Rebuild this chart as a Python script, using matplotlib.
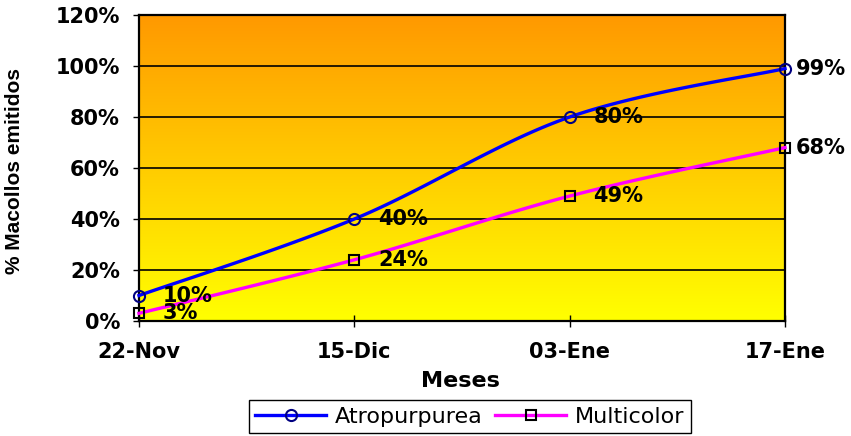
import numpy as np
import matplotlib.pyplot as plt
from matplotlib.ticker import FuncFormatter

# data
meses = ['22-Nov', '15-Dic', '03-Ene', '17-Ene']
atropurpurea = [10, 40, 80, 99]
multicolor = [3, 24, 49, 68]
yticks = [0, 20, 40, 60, 80, 100, 120]


def smooth_curve(xs, ys, n=40):
    """Excel-like smoothed line: cubic Bezier segments with Catmull-Rom control points."""
    pts = np.column_stack([xs, ys]).astype(float)
    out = [pts[0]]
    t = np.linspace(0, 1, n + 1)[1:, None]
    for i in range(len(pts) - 1):
        p0 = pts[max(i - 1, 0)]
        p1 = pts[i]
        p2 = pts[i + 1]
        p3 = pts[min(i + 2, len(pts) - 1)]
        c1 = p1 + (p2 - p0) / 6
        c2 = p2 - (p3 - p1) / 6
        seg = ((1 - t) ** 3) * p1 + 3 * ((1 - t) ** 2) * t * c1 + 3 * (1 - t) * t ** 2 * c2 + t ** 3 * p2
        out.extend(seg)
    out = np.array(out)
    return out[:, 0], out[:, 1], [k * n for k in range(len(pts))]


fig = plt.figure(figsize=(8.51, 4.36), dpi=100)
ax = fig.add_axes([139 / 851, 1 - 321 / 436, 646 / 851, 306 / 436])

# orange -> yellow gradient background
grad = np.linspace(0, 1, 256)[:, None]
top = np.array([1.0, 0.60, 0.0])
bottom = np.array([1.0, 1.0, 0.0])
img = (top[None, None, :] * (1 - grad[..., None]) + bottom[None, None, :] * grad[..., None])
img = np.repeat(img, 2, axis=1)
ax.imshow(img, extent=[0, 1, 0, 1], transform=ax.transAxes, aspect='auto', zorder=0)

x = np.arange(len(meses))
y1 = np.array(atropurpurea) / 100
y2 = np.array(multicolor) / 100

sx, sy, mk = smooth_curve(x, y1)
ax.plot(sx, sy, color='#0000FF', lw=2.4, marker='o', markevery=mk, markersize=8,
        markerfacecolor='none', markeredgecolor='#000080', markeredgewidth=1.5,
        label='Atropurpurea', clip_on=False, zorder=3)
sx, sy, mk = smooth_curve(x, y2)
ax.plot(sx, sy, color='#FF00FF', lw=2.4, marker='s', markevery=mk, markersize=7.5,
        markerfacecolor='none', markeredgecolor='black', markeredgewidth=1.5,
        label='Multicolor', clip_on=False, zorder=3)

label_font = dict(fontsize=15, fontweight='bold', family='DejaVu Sans')
offsets = [17, 17, 17, 8]
for i in range(len(meses)):
    for yy in (y1, y2):
        ax.annotate(f'{int(round(yy[i] * 100))}%', (x[i], yy[i]), xytext=(offsets[i], 0),
                    textcoords='offset points', ha='left', va='center',
                    annotation_clip=False, zorder=4, **label_font)

ax.set_xlim(0, 3)
ax.set_ylim(0, 1.2)
ax.set_yticks(np.array(yticks) / 100)
ax.yaxis.set_major_formatter(FuncFormatter(lambda v, _: f'{v * 100:.0f}%'))
ax.set_xticks(x)
ax.set_xticklabels(meses)
for lab in ax.get_xticklabels() + ax.get_yticklabels():
    lab.set_fontsize(15)
    lab.set_fontweight('bold')
    lab.set_family('DejaVu Sans')
ax.tick_params(axis='x', direction='inout', length=8.6, width=1, pad=11)
ax.tick_params(axis='y', direction='out', length=4.3, width=1, pad=9.4)

ax.grid(axis='y', color='black', lw=1.2, zorder=1)
ax.set_axisbelow(False)
for s in ax.spines.values():
    s.set_color('black')
    s.set_linewidth(1.6)
    s.set_zorder(2)

fig.text(460 / 851, 1 - 381 / 436, 'Meses', ha='center', va='center',
         fontsize=16, fontweight='bold', family='DejaVu Sans')
fig.text(15 / 851, 1 - 171 / 436, '% Macollos emitidos', rotation=90, ha='center', va='center',
         fontsize=15, fontweight='bold', family='Liberation Sans')

leg = fig.legend(loc='upper center', bbox_to_anchor=(470 / 851, 1 - 400 / 436), ncol=2,
                 frameon=True, fancybox=False, edgecolor='black', framealpha=1,
                 prop={'family': 'DejaVu Sans', 'size': 16}, handlelength=3.2,
                 handletextpad=0.4, columnspacing=0.55, borderpad=0.3, borderaxespad=0)
leg.get_frame().set_linewidth(1.0)

fig.savefig('out.png', dpi=100)
